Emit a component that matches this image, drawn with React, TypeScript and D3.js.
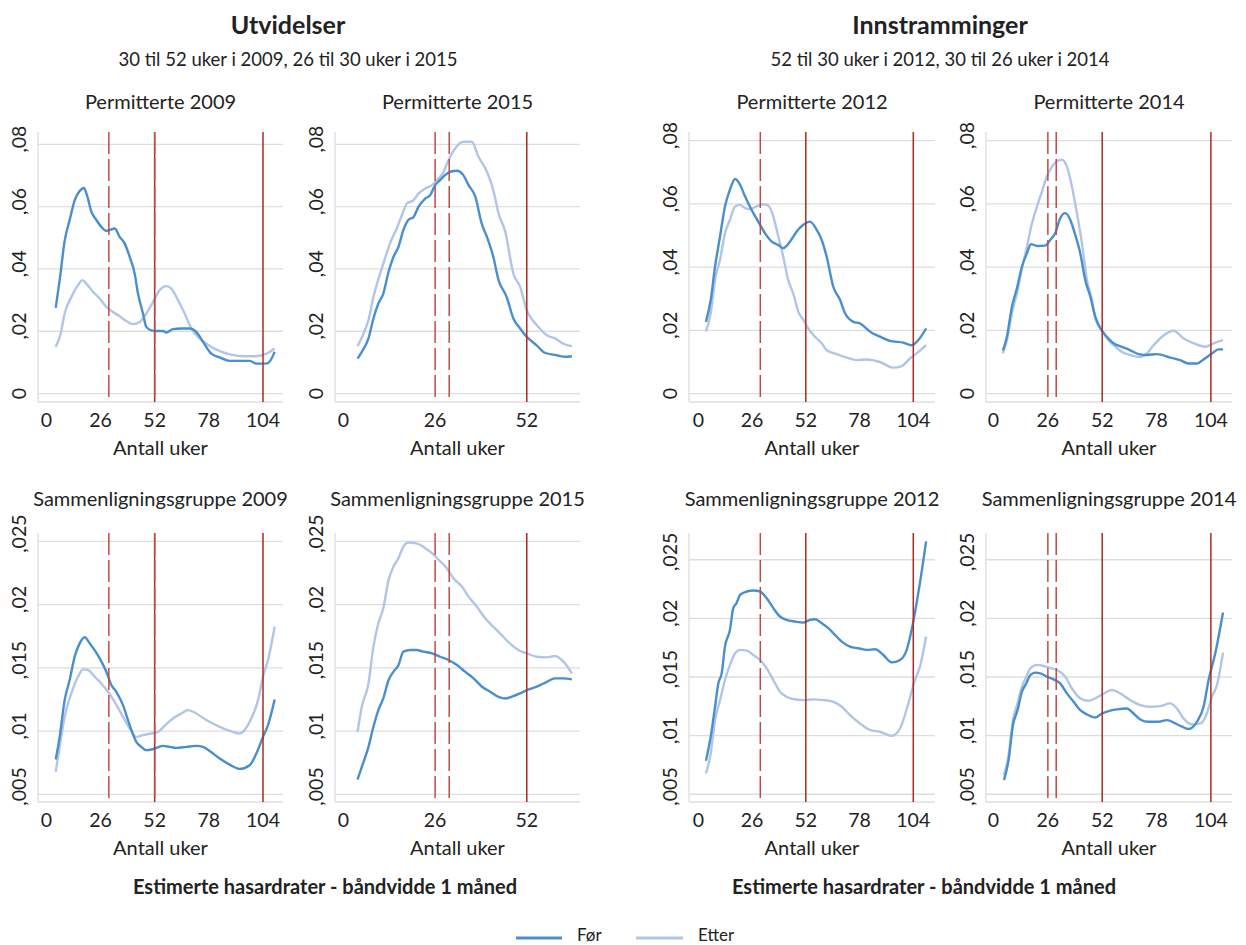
import React from "react";
import * as d3 from "d3";

type Pt = [number, number];

// ---------- Data (week, hazard) ----------
const perm2009Before: Pt[] = [[4.5,.0275],[6.4,.0364],[8.8,.049],[11.2,.0557],[13.6,.062],[16,.065],[18,.066],[19.5,.0637],[21.6,.0584],[24,.0557],[26.4,.0535],[28.8,.0522],[30.4,.0525],[32.8,.053],[35.2,.0503],[37.6,.0482],[40,.0439],[42.4,.0385],[44,.0321],[46.4,.0257],[48,.0214],[50.4,.0203],[52.8,.0201],[56,.0201],[57.6,.0196],[60.8,.0207],[64.8,.0209],[68.8,.0209],[72,.0198],[75.2,.0166],[79.2,.0128],[83.2,.0116],[88,.0105],[92.8,.0105],[97.6,.0105],[100.8,.0096],[104,.0096],[106.4,.0098],[109.6,.0134]];
const perm2009After: Pt[] = [[4.5,.015],[6.9,.0193],[8.8,.0257],[12,.031],[15.2,.0348],[17.3,.0364],[19.2,.0353],[22.4,.0327],[25.6,.0305],[28.8,.0278],[32,.0262],[35.2,.0248],[38.4,.0233],[41.6,.0223],[44.8,.023],[48,.0257],[51.2,.0294],[54.4,.0332],[57.6,.0345],[60,.0337],[63.2,.03],[66.4,.0257],[69.6,.0209],[72.8,.0182],[76.8,.016],[81.6,.0141],[88,.0126],[96,.012],[100.8,.012],[105.6,.0128],[109.6,.0145]];

const perm2015Before: Pt[] = [[4,.0112],[5.2,.0134],[7.1,.0177],[8.5,.0241],[9.9,.0289],[11.3,.0321],[12.8,.0391],[14.2,.0439],[15.6,.0471],[17,.0525],[18.4,.0557],[19.9,.0567],[21.3,.06],[23.2,.0626],[24.6,.0637],[26,.0669],[27.4,.0685],[28.8,.0701],[30.3,.0712],[32.2,.0715],[34,.0701],[35.5,.0669],[37.4,.0632],[39.2,.0546],[40.7,.0503],[42.5,.0439],[44,.0364],[46.3,.031],[48.2,.0241],[50.1,.0209],[52,.0182],[54.8,.0155],[57.1,.0131],[60.5,.0123],[62.9,.0118],[64.8,.012]];
const perm2015After: Pt[] = [[4,.0152],[5.7,.0193],[7.1,.0236],[8.5,.031],[10.4,.0385],[11.8,.0434],[13.2,.0482],[15.1,.053],[16.6,.0573],[18,.061],[19.9,.0621],[21.3,.0642],[23.2,.0658],[25.1,.0669],[26.5,.0685],[28.4,.0712],[29.8,.0749],[31.7,.0787],[34,.0808],[36.4,.0808],[38.3,.076],[40.7,.0712],[42.5,.0653],[44,.0578],[45.9,.0519],[48.2,.0385],[50.1,.0343],[52,.0268],[53,.0246],[54.8,.022],[57.7,.0187],[60,.0177],[62.4,.016],[64.8,.0152]];

const perm2012Before: Pt[] = [[3.7,.0227],[6,.0296],[8.1,.0402],[10.5,.0497],[12.9,.0592],[15.3,.0645],[17.8,.0679],[20.2,.0661],[22.6,.0624],[25.8,.0581],[29,.0544],[32.3,.0507],[35.5,.0481],[38.7,.047],[41.1,.046],[44.4,.0481],[47.6,.0513],[50.8,.0534],[54,.0544],[57.3,.0518],[59.7,.0486],[62.1,.0433],[65.3,.0338],[68.6,.0296],[71,.0254],[75,.0227],[78.2,.0222],[83.1,.0196],[87.9,.018],[92.7,.0167],[99.2,.0161],[103.2,.0153],[106.4,.0169],[110.2,.0206]];
const perm2012After: Pt[] = [[3.7,.0196],[6,.0254],[8.1,.036],[10.5,.0423],[12.9,.0507],[15.3,.055],[17.8,.0592],[20.2,.0597],[22.6,.0587],[25,.0584],[28.2,.0592],[31.4,.0599],[33.9,.0594],[36.3,.056],[38.7,.0497],[41.1,.0433],[43.5,.0359],[45.9,.0317],[48.4,.0259],[50.8,.0233],[53.2,.0206],[56.4,.018],[59.7,.0159],[62.1,.0137],[66.9,.0125],[71.8,.0114],[76.6,.0106],[81.5,.0108],[87.9,.01],[94.4,.0082],[98.4,.0087],[102.4,.0111],[106.4,.0132],[110.2,.0153]];

const perm2014Before: Pt[] = [[4.5,.0137],[6.4,.018],[8.8,.0275],[11.2,.0333],[13.6,.0402],[16,.0444],[17.9,.0473],[20.8,.0467],[24.7,.0468],[27.1,.0486],[29.5,.0507],[31.9,.0555],[34.3,.0571],[36.7,.055],[39.1,.0502],[41.5,.0444],[43.9,.0359],[46.3,.0307],[48.7,.0243],[52.2,.0196],[55,.0174],[57.4,.0159],[61.4,.0148],[65.4,.0137],[69.4,.0125],[73.4,.0122],[78.2,.0125],[84.5,.0114],[89.3,.0106],[93.3,.0095],[97.3,.0095],[100.5,.0108],[104.5,.0127],[107.7,.014],[109.8,.014]];
const perm2014After: Pt[] = [[4.5,.0127],[6.4,.0169],[8.8,.0254],[11.2,.0317],[13.6,.0396],[16,.0465],[18.4,.0539],[20.8,.0592],[23.2,.064],[25.5,.0687],[27.9,.0717],[30.3,.0735],[32.7,.074],[35.1,.0719],[37.5,.0655],[39.9,.0571],[42.3,.0476],[44.7,.0359],[47.1,.0296],[48.7,.0238],[52.2,.0196],[55,.0169],[57.4,.0153],[61.4,.0132],[65.4,.0122],[70.2,.0116],[72.6,.0122],[76.6,.0153],[80.6,.018],[86.2,.0199],[91,.0174],[95.8,.0159],[101.3,.0148],[105.3,.0159],[109.8,.0169]];

const comp2009Before: Pt[] = [[4.5,.00775],[6.4,.00954],[8.8,.01245],[11.2,.01404],[13.6,.01589],[16,.01694],[18.4,.01742],[20.8,.01694],[23.2,.01641],[25.6,.01575],[28.8,.0147],[31.2,.01364],[33.6,.01311],[36.8,.01205],[40,.01047],[43.2,.00915],[45.6,.00875],[48,.00849],[50.4,.00854],[52.8,.00867],[56,.00883],[59.2,.00875],[62.4,.00867],[67.2,.00875],[72,.00883],[75.2,.00875],[78.4,.00843],[83.2,.00783],[88,.00735],[92.8,.00701],[97.6,.0073],[100.8,.00822],[104,.00954],[106.4,.01047],[109.6,.0125]];
const comp2009After: Pt[] = [[4.5,.00677],[6.4,.00875],[8.8,.01113],[12,.01298],[15.2,.0143],[17.6,.01488],[20,.01483],[23.2,.0143],[26.4,.01377],[29.6,.01311],[32.8,.01232],[36.8,.01113],[40,.0102],[43.2,.00954],[46.4,.00968],[50.4,.00981],[53.6,.00994],[57.6,.01055],[60.8,.011],[64.8,.01139],[68,.01166],[72,.01139],[76.8,.01087],[83.2,.01034],[88,.01002],[92.8,.00981],[97.6,.01073],[101.6,.01245],[104,.0143],[106.4,.01562],[109.6,.01826]];

const comp2015Before: Pt[] = [[4,.00616],[5.2,.00717],[7.1,.00875],[8.5,.01034],[9.9,.01166],[11.3,.01258],[12.8,.01404],[14.2,.0147],[15.6,.01522],[17,.01628],[18.9,.01641],[20.8,.01641],[22.7,.01628],[25.1,.01615],[27.4,.01588],[29.8,.01562],[32.2,.01522],[34.5,.0147],[36.9,.01417],[39.3,.01351],[41.6,.01311],[44,.01271],[45.9,.01258],[48.2,.01277],[50.1,.01298],[52,.01324],[54.8,.01351],[57.7,.0139],[60,.01417],[62.4,.01417],[64.8,.01409]];
const comp2015After: Pt[] = [[4,.00994],[5.2,.01192],[7.1,.01377],[8.5,.01668],[9.9,.01853],[11.3,.01972],[12.8,.02196],[14.2,.02302],[15.6,.02368],[17,.0246],[18.4,.02492],[20.3,.02487],[21.7,.02474],[23.2,.02447],[25.1,.02408],[27,.02355],[29.3,.02289],[31.2,.02209],[33.6,.02143],[35.5,.02064],[37.8,.01985],[40.2,.01892],[42.5,.01826],[44.4,.01773],[47.2,.01694],[49.6,.01641],[52,.01615],[54.8,.01588],[57.7,.01583],[60,.01594],[62.4,.01549],[64.8,.01456]];

const comp2012Before: Pt[] = [[3.7,.00785],[6,.0099],[8.1,.01246],[9.7,.01446],[11.3,.01531],[12.9,.01759],[15.3,.01902],[16.9,.02087],[18.5,.0213],[20.2,.02201],[23.4,.02229],[26.6,.02238],[29.9,.02229],[33.1,.02172],[36.3,.02087],[39.5,.02016],[42.7,.01987],[46.8,.01973],[50.8,.01964],[54,.01987],[56.4,.01993],[59.7,.01959],[62.9,.01916],[66.1,.01859],[69.4,.01802],[73.4,.01759],[77.4,.01745],[81.5,.01731],[85.5,.01736],[89.5,.01688],[93.6,.01625],[97.6,.01645],[100.8,.01731],[103.2,.01902],[105.6,.0213],[107.2,.02301],[110.2,.02657]];
const comp2012After: Pt[] = [[3.7,.00677],[6,.00848],[8.1,.01132],[10.5,.01303],[12.9,.01474],[15.3,.01603],[17.8,.01702],[20.2,.01731],[23.4,.01725],[26.6,.01688],[29.9,.01645],[33.1,.01574],[36.3,.01474],[39.5,.01375],[42.7,.01332],[45.9,.01312],[50.8,.01303],[55.6,.01309],[60.5,.01303],[65.3,.01289],[69.4,.01246],[73.4,.01175],[78.2,.01104],[83.1,.01047],[87.9,.01033],[93.6,.00999],[97.6,.01061],[101.6,.01275],[104.8,.01474],[107.2,.01588],[110.2,.01845]];

const comp2014Before: Pt[] = [[5,.0062],[7.2,.00791],[9.3,.0109],[11.5,.01218],[13.6,.01375],[15.7,.01446],[17.6,.01517],[20,.01537],[22.4,.01531],[25.5,.01503],[28.7,.0148],[31.9,.01446],[35.1,.0136],[38.3,.01289],[41.5,.01218],[44.7,.01181],[48.7,.01155],[51.9,.01189],[55,.01209],[59,.01224],[63.8,.01232],[67,.01189],[70.2,.01138],[74.2,.01118],[79,.01118],[83,.01132],[87,.01104],[90.2,.01076],[93.3,.01056],[97.3,.01118],[100.5,.01246],[102.9,.01474],[106.1,.01702],[109.8,.0205]];
const comp2014After: Pt[] = [[5,.00662],[7.2,.00833],[9.3,.01132],[11.5,.01275],[13.6,.01417],[15.7,.01503],[17.6,.01574],[20.8,.01603],[24,.01594],[27.9,.01574],[31.1,.01554],[34.3,.01503],[37.5,.01403],[41.5,.01318],[45.5,.01298],[49.5,.01326],[53.5,.01366],[56.6,.01389],[60.6,.0136],[65.4,.01303],[70.2,.01261],[75,.01246],[79.8,.01252],[84.5,.01275],[87.7,.01232],[90.9,.01147],[94.9,.01095],[98.9,.01104],[102.1,.01189],[104.5,.01332],[106.9,.01432],[109.8,.01708]];

// ---------- Ticks, labels, reference weeks ----------
const xTicksLong = [0, 26, 52, 78, 104];
const xTicksShort = [0, 26, 52];
const yTicksTop = [0, 0.02, 0.04, 0.06, 0.08];
const yLabelsTop = ["0", ",02", ",04", ",06", ",08"];
const yTicksBottom = [0.005, 0.01, 0.015, 0.02, 0.025];
const yLabelsBottom = [",005", ",01", ",015", ",02", ",025"];

const dashed2009 = [30, 52];
const solid2009 = [52, 104];
const dashed2015 = [26, 30];
const solid2015 = [52];
const dashed2012 = [30];
const solid2012 = [52, 104];
const dashed2014 = [26, 30];
const solid2014 = [52, 104];

const titleLeft = "Utvidelser";
const subLeft = "30 til 52 uker i 2009, 26 til 30 uker i 2015";
const titleRight = "Innstramminger";
const subRight = "52 til 30 uker i 2012, 30 til 26 uker i 2014";
const noteText = "Estimerte hasardrater - båndvidde 1 måned";
const legendLabels = ["Før", "Etter"];

// ---------- Style ----------
const FONT = "Lato, 'Open Sans', sans-serif";
const TEXT = "#222";
const GRID = "#dedede";
const BEFORE = "#4a8fcd";
const AFTER = "#b1c5e7";
const RED_SOLID = "#ad2a22";
const RED_DASH = "#bf4c44";

type PanelSpec = {
  title: string;
  before: Pt[];
  after: Pt[];
  left: number;
  right: number;
  xDomain: [number, number];
  xTicks: number[];
  top: number;
  bottom: number;
  yDomain: [number, number];
  yTicks: number[];
  yLabels: string[];
  dashed: number[];
  solid: number[];
  titleY: number;
};

const topRow = { top: 132, bottom: 402, titleY: 109 };
const botRow = { top: 533, bottom: 802, titleY: 506 };
const cols = [
  { left: 38, right: 283, xDomain: [-4, 113.6] as [number, number], xTicks: xTicksLong },
  { left: 335, right: 580, xDomain: [-2.4, 67.1] as [number, number], xTicks: xTicksShort },
  { left: 689, right: 935, xDomain: [-4.5, 114.5] as [number, number], xTicks: xTicksLong },
  { left: 986, right: 1232, xDomain: [-3.6, 114.1] as [number, number], xTicks: xTicksLong },
];
const yDomTopL: [number, number] = [-0.0027, 0.08395];
const yDomTopR: [number, number] = [-0.00266, 0.08276];
const yDomBotL: [number, number] = [0.00439, 0.02567];
const yDomBotR: [number, number] = [0.00434, 0.02728];

const panels: PanelSpec[] = [
  { title: "Permitterte 2009", before: perm2009Before, after: perm2009After, ...cols[0], ...topRow, yDomain: yDomTopL, yTicks: yTicksTop, yLabels: yLabelsTop, dashed: dashed2009, solid: solid2009 },
  { title: "Permitterte 2015", before: perm2015Before, after: perm2015After, ...cols[1], ...topRow, yDomain: yDomTopL, yTicks: yTicksTop, yLabels: yLabelsTop, dashed: dashed2015, solid: solid2015 },
  { title: "Permitterte 2012", before: perm2012Before, after: perm2012After, ...cols[2], ...topRow, yDomain: yDomTopR, yTicks: yTicksTop, yLabels: yLabelsTop, dashed: dashed2012, solid: solid2012 },
  { title: "Permitterte 2014", before: perm2014Before, after: perm2014After, ...cols[3], ...topRow, yDomain: yDomTopR, yTicks: yTicksTop, yLabels: yLabelsTop, dashed: dashed2014, solid: solid2014 },
  { title: "Sammenligningsgruppe 2009", before: comp2009Before, after: comp2009After, ...cols[0], ...botRow, yDomain: yDomBotL, yTicks: yTicksBottom, yLabels: yLabelsBottom, dashed: dashed2009, solid: solid2009 },
  { title: "Sammenligningsgruppe 2015", before: comp2015Before, after: comp2015After, ...cols[1], ...botRow, yDomain: yDomBotL, yTicks: yTicksBottom, yLabels: yLabelsBottom, dashed: dashed2015, solid: solid2015 },
  { title: "Sammenligningsgruppe 2012", before: comp2012Before, after: comp2012After, ...cols[2], ...botRow, yDomain: yDomBotR, yTicks: yTicksBottom, yLabels: yLabelsBottom, dashed: dashed2012, solid: solid2012 },
  { title: "Sammenligningsgruppe 2014", before: comp2014Before, after: comp2014After, ...cols[3], ...botRow, yDomain: yDomBotR, yTicks: yTicksBottom, yLabels: yLabelsBottom, dashed: dashed2014, solid: solid2014 },
];

function Panel({ p }: { p: PanelSpec }) {
  const x = d3.scaleLinear().domain(p.xDomain).range([p.left, p.right]);
  const y = d3.scaleLinear().domain(p.yDomain).range([p.bottom, p.top]);
  const line = d3
    .line<Pt>()
    .x((d) => x(d[0]))
    .y((d) => y(d[1]))
    .curve(d3.curveMonotoneX);
  const cx = (p.left + p.right) / 2;
  return (
    <g>
      <text x={cx} y={p.titleY} textAnchor="middle" fontSize={20} fill={TEXT} fontFamily={FONT}>
        {p.title}
      </text>
      {p.yTicks.map((t) => (
        <line key={"g" + t} x1={p.left} x2={p.right} y1={y(t)} y2={y(t)} stroke={GRID} strokeWidth={1.3} />
      ))}
      <line x1={p.left} x2={p.left} y1={p.top} y2={p.bottom} stroke={GRID} strokeWidth={1.3} />
      <line x1={p.left} x2={p.right} y1={p.bottom} y2={p.bottom} stroke={GRID} strokeWidth={1.3} />
      {p.yTicks.map((t, i) => {
        const lab = p.yLabels[i];
        const yy = y(t) - (lab.length - 1) * 2.6;
        return (
          <text
            key={"yl" + t}
            transform={`translate(${p.left - 12.5},${yy}) rotate(-90)`}
            textAnchor="middle"
            fontSize={19.5}
            fill={TEXT}
            fontFamily={FONT}
          >
            {lab}
          </text>
        );
      })}
      {p.xTicks.map((t) => (
        <text key={"xl" + t} x={x(t)} y={p.bottom + 25} textAnchor="middle" fontSize={19.5} fill={TEXT} fontFamily={FONT}>
          {t}
        </text>
      ))}
      <text x={cx} y={p.bottom + 53} textAnchor="middle" fontSize={20} fill={TEXT} fontFamily={FONT}>
        Antall uker
      </text>
      <path d={line(p.after) || ""} fill="none" stroke={AFTER} strokeWidth={2.4} strokeLinejoin="round" />
      <path d={line(p.before) || ""} fill="none" stroke={BEFORE} strokeWidth={2.4} strokeLinejoin="round" />
      {p.solid.map((w) => (
        <line key={"s" + w} x1={x(w)} x2={x(w)} y1={p.top} y2={p.bottom} stroke={RED_SOLID} strokeWidth={1.5} />
      ))}
      {p.dashed.map((w) => (
        <line key={"d" + w} x1={x(w)} x2={x(w)} y1={p.top} y2={p.bottom} stroke={RED_DASH} strokeWidth={1.5} strokeDasharray="22,5" />
      ))}
    </g>
  );
}

export default function App() {
  return (
    <svg
      width={1246}
      height={945}
      viewBox="0 0 1246 945"
      style={{ position: "absolute", left: 0, top: 0, background: "#fff" }}
    >
      <rect x={0} y={0} width={1246} height={945} fill="#fff" />
      <text x={288} y={34} textAnchor="middle" fontSize={25} fontWeight="bold" fill={TEXT} fontFamily={FONT}>
        {titleLeft}
      </text>
      <text x={288} y={66} textAnchor="middle" fontSize={18.5} fill={TEXT} fontFamily={FONT}>
        {subLeft}
      </text>
      <text x={940} y={34} textAnchor="middle" fontSize={25} fontWeight="bold" fill={TEXT} fontFamily={FONT}>
        {titleRight}
      </text>
      <text x={940} y={66} textAnchor="middle" fontSize={18.5} fill={TEXT} fontFamily={FONT}>
        {subRight}
      </text>
      {panels.map((p, i) => (
        <Panel key={i} p={p} />
      ))}
      <text x={325} y={894} textAnchor="middle" fontSize={20} fontWeight="bold" fill={TEXT} fontFamily={FONT}>
        {noteText}
      </text>
      <text x={924} y={894} textAnchor="middle" fontSize={20} fontWeight="bold" fill={TEXT} fontFamily={FONT}>
        {noteText}
      </text>
      <line x1={516} x2={562} y1={938} y2={938} stroke={BEFORE} strokeWidth={3} />
      <text x={577} y={941} fontSize={17} fill={TEXT} fontFamily={FONT}>
        {legendLabels[0]}
      </text>
      <line x1={636} x2={683} y1={938} y2={938} stroke={AFTER} strokeWidth={3} />
      <text x={698} y={941} fontSize={17} fill={TEXT} fontFamily={FONT}>
        {legendLabels[1]}
      </text>
    </svg>
  );
}
